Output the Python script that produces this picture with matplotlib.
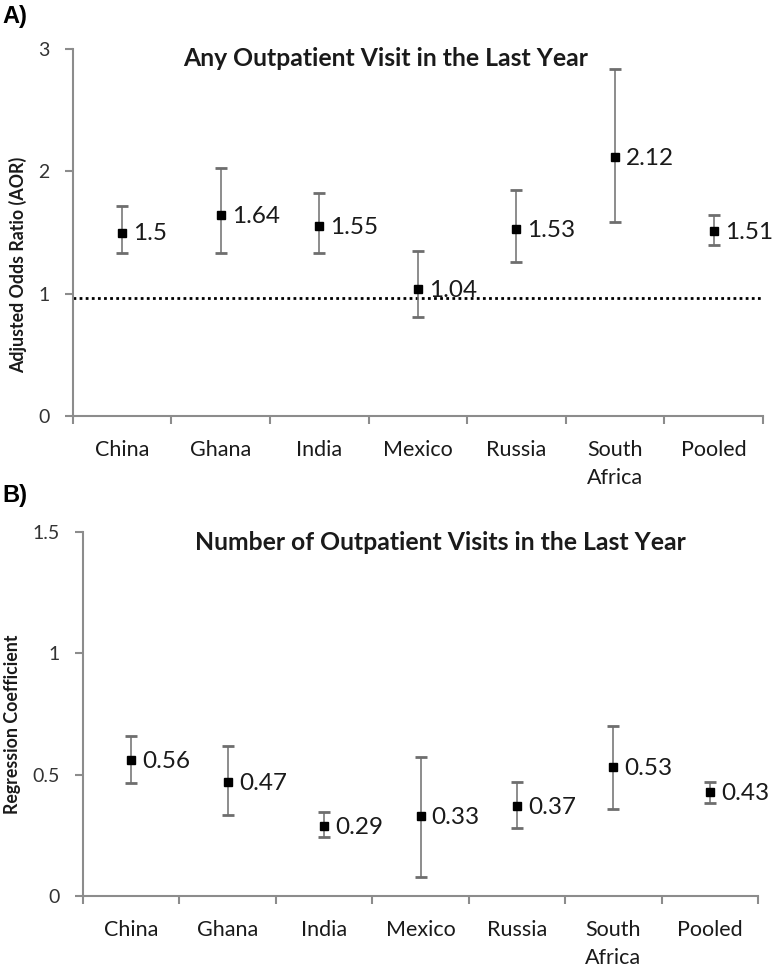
import matplotlib
matplotlib.use("Agg")
import matplotlib.pyplot as plt
import numpy as np

plt.rcParams["font.family"] = ["Lato", "DejaVu Sans"]

countries = ["China", "Ghana", "India", "Mexico", "Russia", "South\nAfrica", "Pooled"]

# A) any outpatient visit, adjusted odds ratio
aor = [1.50, 1.64, 1.55, 1.04, 1.53, 2.12, 1.51]
aor_low = [1.33, 1.33, 1.33, 0.81, 1.26, 1.59, 1.40]
aor_high = [1.72, 2.03, 1.82, 1.35, 1.85, 2.84, 1.64]
aor_labels = ["1.5", "1.64", "1.55", "1.04", "1.53", "2.12", "1.51"]
ref_line = 0.965

# B) number of outpatient visits, regression coefficient
coef = [0.56, 0.47, 0.29, 0.33, 0.37, 0.53, 0.43]
coef_low = [0.465, 0.335, 0.245, 0.08, 0.28, 0.36, 0.385]
coef_high = [0.66, 0.62, 0.345, 0.575, 0.47, 0.70, 0.47]
coef_labels = ["0.56", "0.47", "0.29", "0.33", "0.37", "0.53", "0.43"]

AXIS_GRAY = "#8c8c8c"
TEXT = "#1a1a1a"


def draw_panel(ax, vals, lows, highs, labels, ymax, yticks, yticklabels):
    x = np.arange(len(countries))
    err = [np.array(vals) - np.array(lows), np.array(highs) - np.array(vals)]
    _, caps, bars = ax.errorbar(x, vals, yerr=err, fmt="s", color="black", markersize=6,
                                ecolor="#6e6e6e", elinewidth=1.1, capsize=4, capthick=2, zorder=3)
    for c in caps:
        c.set_color("black")
    for i, (v, lab) in enumerate(zip(vals, labels)):
        ax.annotate(lab, (i, v), textcoords="offset points", xytext=(8, -1),
                    ha="left", va="center", fontsize=17.5, color=TEXT, zorder=4)

    ax.set_xlim(-0.5, len(countries) - 0.5)
    ax.set_ylim(0, ymax)
    ax.set_xticks(x)
    ax.set_xticklabels(countries, fontsize=15.5, color=TEXT, va="top", linespacing=1.5)
    ax.set_xticks(np.arange(len(countries) + 1) - 0.5, minor=True)
    ax.tick_params(axis="x", which="major", length=0, pad=17)
    ax.tick_params(axis="x", which="minor", length=6, color=AXIS_GRAY, width=1.5)
    ax.set_yticks(yticks)
    ax.set_yticklabels(yticklabels, fontsize=14, color="#333333")
    ax.tick_params(axis="y", length=6, color=AXIS_GRAY, width=1.5, pad=11)
    ax.spines["top"].set_visible(False)
    ax.spines["right"].set_visible(False)
    for s in ("left", "bottom"):
        ax.spines[s].set_color(AXIS_GRAY)
        ax.spines[s].set_linewidth(1.5)


fig = plt.figure(figsize=(7.76, 9.69), dpi=100)

ax1 = fig.add_axes([0.094, 0.5707, 0.889, 0.3787])
draw_panel(ax1, aor, aor_low, aor_high, aor_labels, 3, [0, 1, 2, 3], ["0", "1", "2", "3"])
ax1.axhline(ref_line, color="black", linestyle=(0, (1, 1.2)), linewidth=2, zorder=2)

ax2 = fig.add_axes([0.107, 0.0753, 0.870, 0.3756])
draw_panel(ax2, coef, coef_low, coef_high, coef_labels, 1.5, [0, 0.5, 1, 1.5],
           ["0", "0.5", "1", "1.5"])

fig.text(386 / 776, 1 - 59 / 969, "Any Outpatient Visit in the Last Year",
         ha="center", va="center", fontsize=17.8, fontweight="bold", color=TEXT)
fig.text(440 / 776, 1 - 543 / 969, "Number of Outpatient Visits in the Last Year",
         ha="center", va="center", fontsize=17.8, fontweight="bold", color=TEXT)

fig.text(18 / 776, 1 - 265 / 969, "Adjusted Odds Ratio (AOR)", rotation=90,
         ha="center", va="center", fontsize=12.8, fontweight="bold", color=TEXT)
fig.text(13 / 776, 1 - 724 / 969, "Regression Coefficient", rotation=90,
         ha="center", va="center", fontsize=12.8, fontweight="bold", color=TEXT)

fig.text(2 / 776, 1 - 16 / 969, "A)", ha="left", va="center", fontsize=17,
         fontweight="bold", family=["Liberation Sans", "DejaVu Sans"])
fig.text(2 / 776, 1 - 496 / 969, "B)", ha="left", va="center", fontsize=17,
         fontweight="bold", family=["Liberation Sans", "DejaVu Sans"])

fig.savefig("out.png", facecolor="white")
plt.close(fig)
